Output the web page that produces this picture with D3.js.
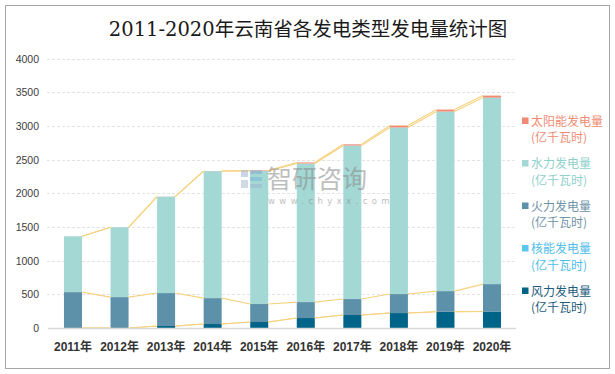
<!DOCTYPE html>
<html><head><meta charset="utf-8">
<script src="https://cdn.jsdelivr.net/npm/d3@7"></script>
<style>
html,body{margin:0;padding:0;background:#fff;}
svg{display:block;}
</style></head>
<body>
<script>
const years = ["2011年","2012年","2013年","2014年","2015年","2016年","2017年","2018年","2019年","2020年"];
const windPower    = [0, 0, 30, 59, 89, 148, 193, 222, 241, 245];
const nuclearPower = [0, 0, 0, 0, 0, 0, 0, 0, 0, 0];
const thermalPower = [533, 459, 489, 385, 267, 237, 237, 282, 307, 407];
const hydroPower   = [830, 1037, 1432, 1886, 1976, 2059, 2281, 2474, 2667, 2770];
const solarPower   = [0, 0, 1, 2, 8, 15, 17, 29, 29, 30];
const yTicks = [0, 500, 1000, 1500, 2000, 2500, 3000, 3500, 4000];
const seriesNames = ["风力发电量", "核能发电量", "火力发电量", "水力发电量", "太阳能发电量"];
const unitLabel = "(亿千瓦时)";
const titleText = "2011-2020年云南省各发电类型发电量统计图";

const W = 615, H = 374;
const colors = ["#006488", "#5bc6ef", "#5d90a9", "#a3d8d5", "#f08b72"];
const textColors = ["#1d5c7c", "#4fbde9", "#6f93a8", "#8fd0cc", "#ef8c74"];

const svg = d3.select("body").append("svg").attr("width", W).attr("height", H);

// frame
svg.append("rect").attr("x", 5.5).attr("y", 5.5).attr("width", 604).attr("height", 363)
  .attr("fill", "#fff").attr("stroke", "#a6a6a6").attr("stroke-width", 1);

// title
svg.append("text").attr("x", 308).attr("y", 36).attr("text-anchor", "middle")
  .attr("font-family", "'DejaVu Serif', 'Noto Sans CJK SC', serif")
  .attr("font-size", 19.5).attr("fill", "#1a1a1a").text(titleText);

const x = d3.scaleBand().domain(years).range([49.7, 515.3]).paddingInner(0.613).paddingOuter(0.3065);
const y = d3.scaleLinear().domain([0, 4000]).range([328, 58.7]);

// gridlines
svg.append("g").selectAll("line").data(yTicks.filter(d => d > 0)).join("line")
  .attr("x1", 47).attr("x2", 516)
  .attr("y1", d => Math.round(y(d)) + 0.5).attr("y2", d => Math.round(y(d)) + 0.5)
  .attr("stroke", "#e3e3e3").attr("stroke-dasharray", "3,2").attr("stroke-width", 1);

// stacked data
const rows = years.map((yr, i) => ({year: yr, s0: windPower[i], s1: nuclearPower[i], s2: thermalPower[i], s3: hydroPower[i], s4: solarPower[i]}));
const stack = d3.stack().keys(["s0","s1","s2","s3","s4"])(rows);

// bars
stack.forEach((layer, k) => {
  svg.append("g").selectAll("rect").data(layer).join("rect")
    .attr("x", d => x(d.data.year))
    .attr("width", x.bandwidth())
    .attr("y", d => y(d[1]))
    .attr("height", d => Math.max(0, y(d[0]) - y(d[1])))
    .attr("fill", colors[k]);
});

// series lines
const lineColor = "#f6d27f";
stack.forEach((layer, k) => {
  const segs = [];
  for (let i = 0; i < layer.length - 1; i++) {
    segs.push({x1: x(years[i]) + x.bandwidth(), y1: y(layer[i][1]), x2: x(years[i+1]), y2: y(layer[i+1][1])});
  }
  svg.append("g").selectAll("line").data(segs).join("line")
    .attr("x1", d => d.x1).attr("y1", d => d.y1).attr("x2", d => d.x2).attr("y2", d => d.y2)
    .attr("stroke", lineColor).attr("stroke-width", 1.1);
});

// x axis line
svg.append("line").attr("x1", 48).attr("x2", 516).attr("y1", 328.5).attr("y2", 328.5)
  .attr("stroke", "#d9d9d9").attr("stroke-width", 1.5);

// y axis
const yAxis = svg.append("g").attr("transform", "translate(39,0)")
  .call(d3.axisLeft(y).tickValues(yTicks).tickSize(0).tickPadding(0).tickFormat(d3.format("d")));
yAxis.select(".domain").remove();
yAxis.selectAll("text").attr("font-family", "'Liberation Sans', Arial, sans-serif")
  .attr("font-size", 10.5).attr("fill", "#404040");

// x axis labels
const xAxis = svg.append("g").attr("transform", "translate(0,328)")
  .call(d3.axisBottom(x).tickSize(0).tickPadding(0));
xAxis.select(".domain").remove();
xAxis.selectAll("text").attr("y", 23).attr("dy", 0)
  .attr("font-family", "'Liberation Sans', 'Noto Sans CJK SC', sans-serif")
  .attr("font-weight", "bold").attr("font-size", 12).attr("fill", "#333");

// watermark
const wm = svg.append("g").attr("opacity", 0.55);
wm.append("rect").attr("x", 241).attr("y", 170).attr("width", 7).attr("height", 7).attr("fill", "#9fb6d0");
wm.append("rect").attr("x", 250).attr("y", 170).attr("width", 12).attr("height", 4).attr("fill", "#8fa9c8");
wm.append("rect").attr("x", 250).attr("y", 177).attr("width", 12).attr("height", 4).attr("fill", "#7ab8d8");
wm.append("rect").attr("x", 241).attr("y", 180).attr("width", 7).attr("height", 8).attr("fill", "#a9bcd2");
wm.append("rect").attr("x", 250).attr("y", 184).attr("width", 12).attr("height", 4).attr("fill", "#9fb6d0");
wm.append("text").attr("x", 267).attr("y", 188).attr("font-family", "'Noto Sans CJK SC', sans-serif")
  .attr("font-size", 25).attr("fill", "#8a8a8a").text("智研咨询");
wm.append("text").attr("x", 268).attr("y", 204).attr("font-family", "'DejaVu Sans', sans-serif")
  .attr("font-size", 8.5).attr("letter-spacing", 4.4).attr("fill", "#8a8a8a").text("www.chyxx.com");

// legend (top to bottom: solar, hydro, thermal, nuclear, wind)
const legendOrder = [4, 3, 2, 1, 0];
const lg = svg.append("g");
legendOrder.forEach((k, j) => {
  const cy = 121 + j * 42.5;
  lg.append("rect").attr("x", 522).attr("y", cy - 3.5).attr("width", 6.5).attr("height", 6.5).attr("fill", colors[k]);
  lg.append("text").attr("x", 531).attr("y", cy + 4.5)
    .attr("font-family", "'Noto Sans CJK SC', sans-serif").attr("font-size", 12)
    .attr("fill", textColors[k]).text(seriesNames[k]);
  lg.append("text").attr("x", 531).attr("y", cy + 21)
    .attr("font-family", "'Noto Sans CJK SC', sans-serif").attr("font-size", 12)
    .attr("fill", textColors[k]).text(unitLabel);
});
</script>
</body></html>
